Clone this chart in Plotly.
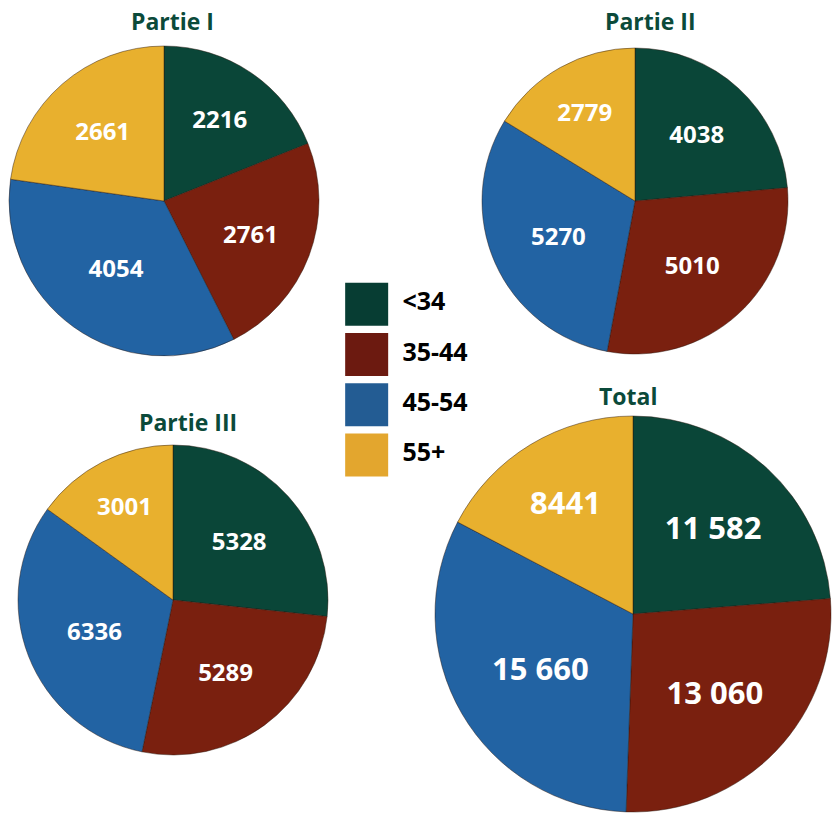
import plotly.graph_objects as go

W, H = 840, 825

categories = ["<34", "35-44", "45-54", "55+"]
titles = ["Partie I", "Partie II", "Partie III", "Total"]
partie_1 = [2216, 2761, 4054, 2661]
partie_2 = [4038, 5010, 5270, 2779]
partie_3 = [5328, 5289, 6336, 3001]
total = [11582, 13060, 15660, 8441]

pie_colors = ["#0a4638", "#7a200f", "#2263a3", "#e8b02e"]
legend_colors = ["#073d33", "#6c1a10", "#235c93", "#e3a62e"]
title_color = "#0b4a3a"
FONT = "Open Sans"


def fmt(v):
    # French style: space grouping only for numbers of 5+ digits
    return f"{v:,}".replace(",", " ") if v >= 10000 else str(v)


def px_dom(x0, x1, y0, y1):
    return dict(x=[x0 / W, x1 / W], y=[1 - y1 / H, 1 - y0 / H])


# (values, center x, center y, radius, label size)
pies = [
    (partie_1, 164, 201, 155, 24),
    (partie_2, 635, 201, 153, 24),
    (partie_3, 173, 600, 155, 24),
    (total, 633, 614, 198, 31),
]

fig = go.Figure()
for vals, cx, cy, r, fs in pies:
    fig.add_trace(go.Pie(
        labels=categories,
        values=vals,
        text=[fmt(v) for v in vals],
        textinfo="text",
        textposition="inside",
        insidetextorientation="horizontal",
        textfont=dict(family=FONT, size=fs, color="white", weight="bold"),
        marker=dict(colors=pie_colors, line=dict(color="rgba(40,20,10,0.45)", width=1)),
        sort=False,
        direction="clockwise",
        rotation=0,
        hoverinfo="label+value",
        showlegend=False,
        domain=px_dom(cx - r, cx + r, cy - r, cy + r),
    ))

# Legend drawn as big squares plus labels
fig.add_trace(go.Scatter(
    x=[0] * len(categories),
    y=categories,
    mode="markers",
    marker=dict(symbol="square", size=43, color=legend_colors, line=dict(width=0)),
    xaxis="x", yaxis="y",
    showlegend=False,
    hoverinfo="skip",
))
fig.add_trace(go.Scatter(
    x=[0.33] * len(categories),
    y=categories,
    mode="text",
    text=categories,
    textposition="middle right",
    textfont=dict(family=FONT, size=25, color="black", weight="bold"),
    xaxis="x", yaxis="y",
    showlegend=False,
    hoverinfo="skip",
))

# Titles
title_pos = [(172, 21), (650, 21), (188, 422), (628, 396)]
annotations = []
for t, (tx, ty) in zip(titles, title_pos):
    annotations.append(dict(
        text=t, x=tx / W, y=1 - ty / H, xref="paper", yref="paper",
        xanchor="center", yanchor="middle", showarrow=False,
        font=dict(family=FONT, size=23, color=title_color, weight="bold"),
    ))

fig.update_layout(
    width=W, height=H,
    margin=dict(l=0, r=0, t=0, b=0),
    paper_bgcolor="white", plot_bgcolor="rgba(0,0,0,0)",
    annotations=annotations,
    xaxis=dict(domain=[345 / W, 475 / W], range=[-0.2, 1.0], visible=False, fixedrange=True),
    yaxis=dict(domain=[1 - 480 / H, 1 - 279 / H], type="category",
               range=[len(categories) - 0.5, -0.5], autorange=False,
               visible=False, fixedrange=True),
)

fig.write_html("out.html", config={"displayModeBar": False},
               post_script="document.body.style.margin='0';")
